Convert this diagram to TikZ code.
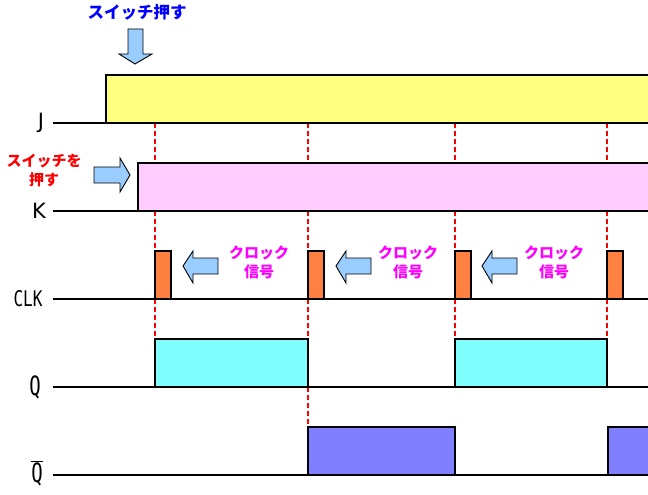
\documentclass[tikz,border=0pt]{standalone}
\usepackage{fontspec}
\usepackage{graphicx}
\setmainfont{DejaVu Sans}
\newfontfamily\jpfont{Noto Sans CJK JP}
\newfontfamily\lblmono{DejaVu Sans Mono}
\definecolor{jyel}{HTML}{FFFF80}
\definecolor{kpink}{HTML}{FFCCFF}
\definecolor{clkor}{HTML}{FF8040}
\definecolor{qcyan}{HTML}{80FFFF}
\definecolor{qbblue}{HTML}{8080FF}
\definecolor{arrblue}{HTML}{99CCFF}
\definecolor{txtblue}{HTML}{0000FF}
\definecolor{txtmag}{HTML}{FF00FF}
\tikzset{
  sig/.style={draw=black, line width=1.4pt},
  baseln/.style={draw=black, line width=1.6pt},
  guide/.style={draw=red, line width=1.2pt, dash pattern=on 5pt off 3pt},
  hint/.style={draw=black, line width=0.9pt, fill=arrblue, line join=miter},
  siglabel/.style={font=\fontsize{21}{21}\selectfont, inner sep=0pt},
  jpnote/.style={font=\jpfont\bfseries\fontsize{15}{19}\selectfont, inner sep=0pt, align=center},
}
\begin{document}
\begin{tikzpicture}[x=1pt,y=-1pt]
\useasboundingbox (0,0) rectangle (648,495);
\clip (0,0) rectangle (648,495);
% guides
\draw[guide] (155,123) -- (155,339);
\draw[guide] (308,123) -- (308,427);
\draw[guide] (455,123) -- (455,339);
\draw[guide] (607,123) -- (607,339);
% J
\filldraw[sig, fill=jyel] (106,123) rectangle (652,75);
\draw[baseln] (53,123) -- (648,123);
% K
\filldraw[sig, fill=kpink] (138,211) rectangle (652,163);
\draw[baseln] (53,211) -- (648,211);
% CLK
\foreach \x in {155,308,455,607}
  \filldraw[sig, fill=clkor] (\x,299) rectangle (\x+16,251);
\draw[baseln] (53,299) -- (648,299);
% Q
\filldraw[sig, fill=qcyan] (155,387) rectangle (308,339);
\filldraw[sig, fill=qcyan] (455,387) rectangle (607,339);
\draw[baseln] (53,387) -- (648,387);
% Qbar
\filldraw[sig, fill=qbblue] (308,475) rectangle (455,427);
\filldraw[sig, fill=qbblue] (608,475) rectangle (652,427);
\draw[baseln] (53,475) -- (648,475);
% labels
\node[siglabel] (lJ) at (41,123) {J};
\node[siglabel] (lK) at (39,211) {K};
\node[siglabel, font=\lblmono\fontsize{16}{16}\selectfont] (lCLK) at (28,299) {\scalebox{1}[1.35]{CLK}};
\node[siglabel, font=\lblmono\fontsize{19}{19}\selectfont] (lQ) at (35,387) {\scalebox{1}[1.4]{Q}};
\node[siglabel, font=\lblmono\fontsize{19}{19}\selectfont] (lQb) at (37,473) {$\overline{\mbox{\scalebox{1}[1.4]{Q}}}$};
% hint arrows
\draw[hint] (128,29) -- (143,29) -- (143,54) -- (152,54) -- (135,64) -- (119,54) -- (128,54) -- cycle;
\draw[hint] (94,167) -- (120,167) -- (120,158) -- (130,175) -- (120,192) -- (120,183) -- (94,183) -- cycle;
\foreach \t in {183,336,482}
  \draw[hint] (\t+35,258) -- (\t+10,258) -- (\t+10,251) -- (\t,266) -- (\t+10,283) -- (\t+10,274) -- (\t+35,274) -- cycle;
% notes
\node[jpnote, text=txtblue, font=\jpfont\bfseries\fontsize{16.5}{19}\selectfont] (n1) at (137,12) {スイッチ押す};
\node[jpnote, text=red] (n2) at (44,171) {スイッチを\\押す};
\node[jpnote, text=txtmag] (c1) at (259,262) {クロック\\信号};
\node[jpnote, text=txtmag] (c2) at (408,262) {クロック\\信号};
\node[jpnote, text=txtmag] (c3) at (554,262) {クロック\\信号};
\end{tikzpicture}
\end{document}
